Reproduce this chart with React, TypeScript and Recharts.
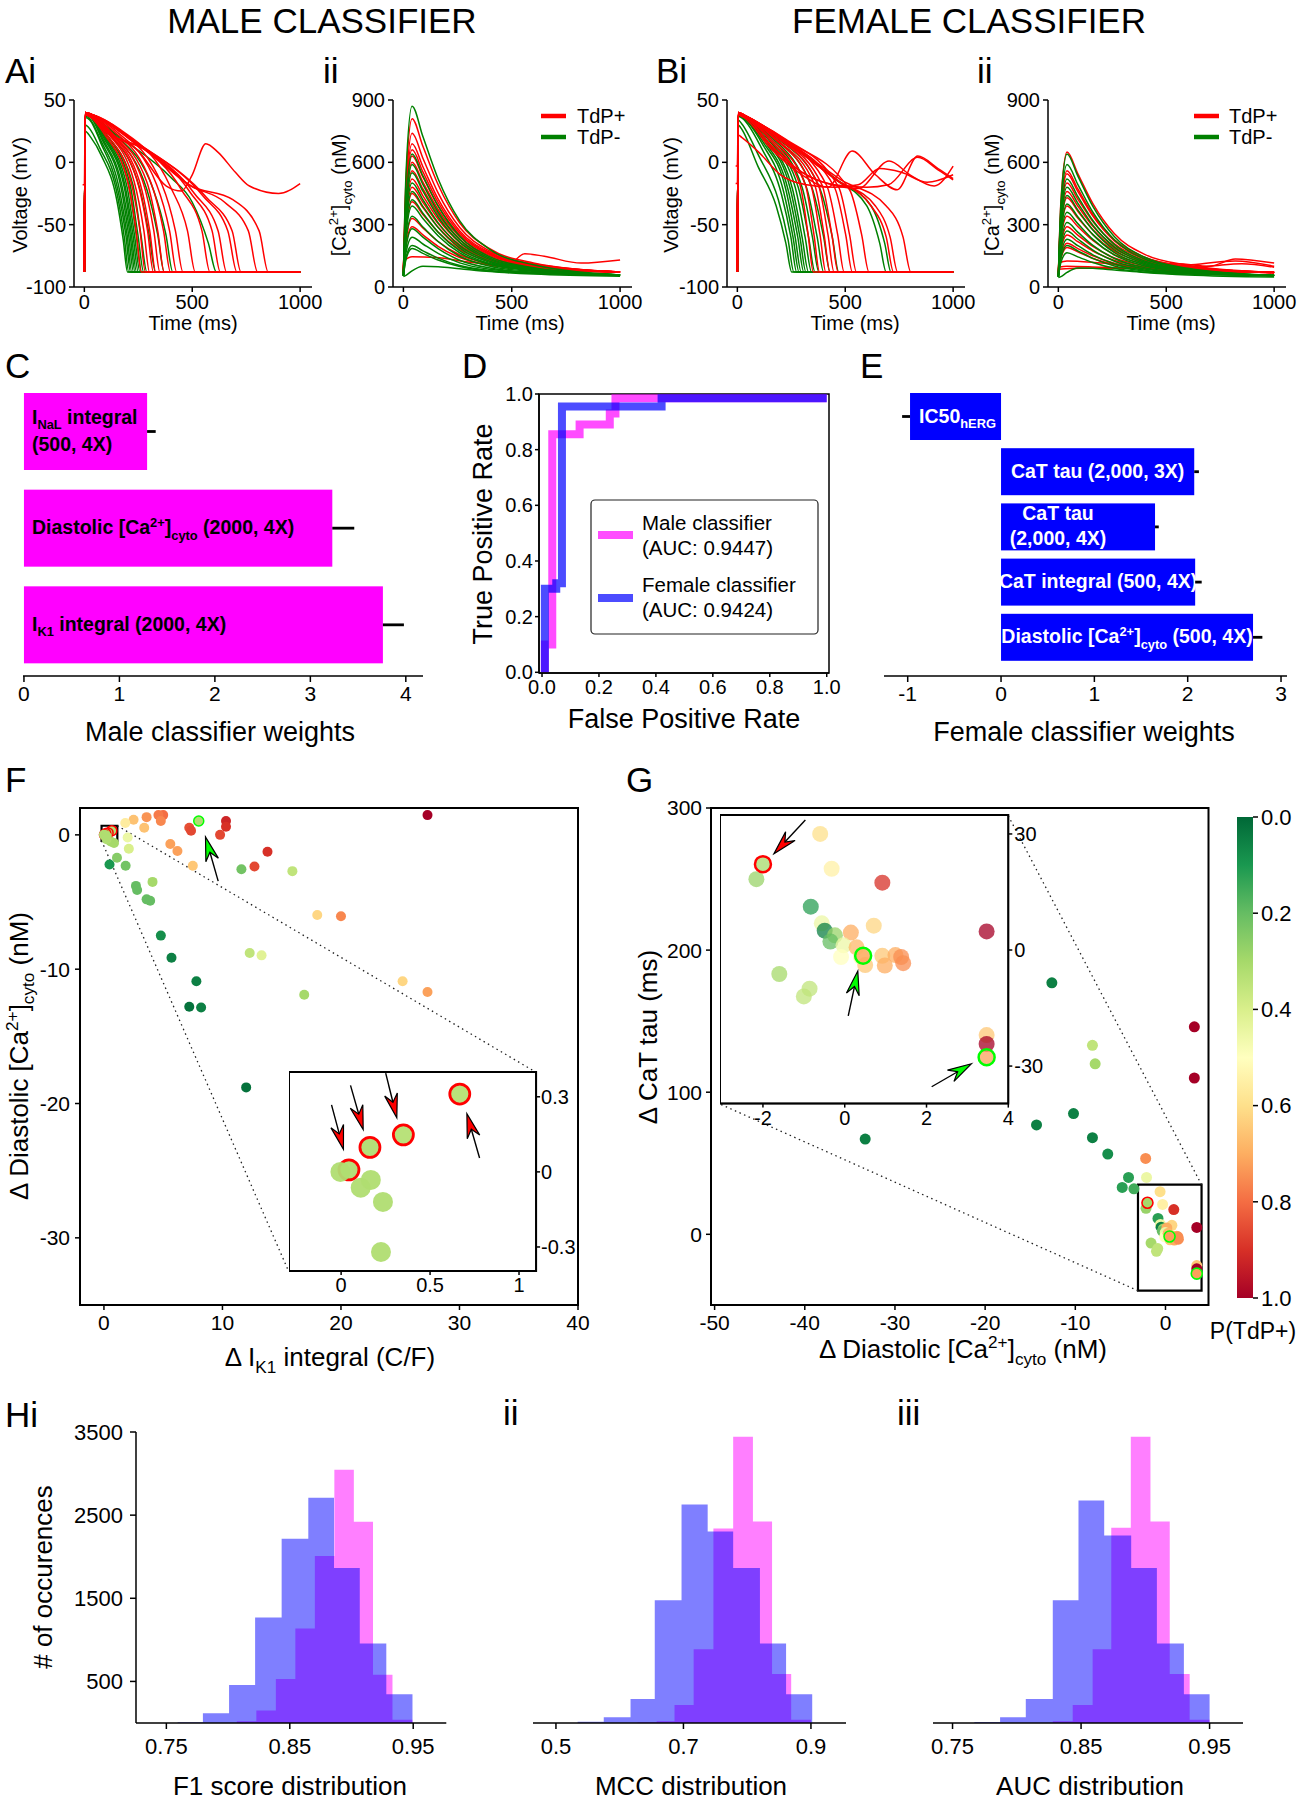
import React from 'react';
import {
  LineChart, Line, BarChart, Bar, ErrorBar, ScatterChart, Scatter, ComposedChart, Area,
  XAxis, YAxis, ReferenceArea, ReferenceLine,
} from 'recharts';

const FONT = "'Liberation Sans', Arial, Helvetica, sans-serif";
const RED = '#ff0000';
const GREEN = '#008000';
const MAGENTA = '#ff00ff';
const BLUE = '#0000ff';
const LIME = '#00ff00';

// ---------- A / B : voltage and Ca traces (t in ms) ----------
const timeTicks = [0, 500, 1000];
const voltTicks = [-100, -50, 0, 50];
const caTicks = [0, 300, 600, 900];
const caTimes = [0, 12, 40, 90, 160, 260, 400, 600, 1000];

const maleApGreen = [
  [[0, -88], [4, 25], [30, 20], [80, 5], [150, -30], [180, -62], [200, -88], [1000, -88]],
  [[0, -88], [4, 30], [20, 28], [70, 12], [155, -28], [185, -60], [206, -88], [1000, -88]],
  [[0, -88], [4, 36], [25, 34], [75, 16], [160, -26], [192, -58], [214, -88], [1000, -88]],
  [[0, -88], [4, 37], [25, 35], [75, 18], [165, -24], [198, -58], [220, -88], [1000, -88]],
  [[0, -88], [4, 38], [30, 36], [80, 19], [172, -22], [205, -58], [228, -88], [1000, -88]],
  [[0, -88], [4, 38], [30, 36], [85, 19], [178, -22], [212, -58], [235, -88], [1000, -88]],
  [[0, -88], [4, 39], [30, 37], [85, 21], [185, -20], [218, -58], [242, -88], [1000, -88]],
  [[0, -88], [4, 38], [30, 37], [90, 21], [190, -20], [225, -58], [250, -88], [1000, -88]],
  [[0, -88], [4, 39], [30, 37], [95, 21], [198, -20], [232, -58], [258, -88], [1000, -88]],
  [[0, -88], [4, 38], [30, 37], [95, 22], [205, -18], [240, -58], [266, -88], [1000, -88]],
  [[0, -88], [4, 39], [35, 37], [100, 23], [212, -18], [248, -58], [275, -88], [1000, -88]],
  [[0, -88], [4, 38], [35, 37], [100, 23], [225, -18], [262, -58], [290, -88], [1000, -88]],
  [[0, -88], [4, 39], [35, 38], [110, 24], [255, -20], [300, -58], [330, -88], [1000, -88]],
  [[0, -88], [4, 38], [35, 37], [120, 24], [290, -22], [340, -58], [370, -88], [1000, -88]],
  [[0, -88], [4, 38], [35, 37], [130, 24], [320, -22], [378, -58], [410, -88], [1000, -88]],
  [[0, -88], [4, 39], [35, 37], [150, 22], [400, -12], [500, -32], [575, -65], [612, -88], [1000, -88]],
];

const maleApRed = [
  [[0, -88], [4, 38], [30, 36], [95, 22], [200, -15], [240, -55], [264, -88], [1000, -88]],
  [[0, -88], [4, 39], [30, 37], [100, 23], [215, -15], [258, -55], [283, -88], [1000, -88]],
  [[0, -88], [4, 38], [30, 37], [105, 24], [230, -15], [276, -55], [302, -88], [1000, -88]],
  [[0, -88], [4, 39], [30, 37], [110, 24], [245, -15], [293, -55], [320, -88], [1000, -88]],
  [[0, -88], [4, 38], [30, 37], [110, 25], [255, -15], [303, -55], [331, -88], [1000, -88]],
  [[0, -88], [4, 40], [35, 38], [115, 25], [270, -15], [322, -55], [350, -88], [1000, -88]],
  [[0, -88], [4, 39], [35, 38], [120, 25], [290, -16], [340, -55], [370, -88], [1000, -88]],
  [[0, -88], [4, 40], [35, 38], [130, 26], [310, -17], [367, -55], [399, -88], [1000, -88]],
  [[0, -88], [4, 39], [35, 38], [140, 26], [335, -18], [395, -55], [428, -88], [1000, -88]],
  [[0, -88], [4, 40], [35, 38], [145, 27], [360, -18], [422, -55], [457, -88], [1000, -88]],
  [[0, -88], [4, 40], [40, 38], [160, 27], [400, -20], [478, -55], [514, -88], [1000, -88]],
  [[0, -88], [4, 40], [40, 38], [200, 20], [450, -22], [545, -55], [582, -88], [1000, -88]],
  [[0, -88], [4, 40], [40, 38], [220, 18], [490, -24], [592, -55], [630, -88], [1000, -88]],
  [[0, -88], [4, 39], [40, 38], [230, 17], [510, -25], [620, -55], [659, -88], [1000, -88]],
  [[0, -88], [4, 40], [40, 38], [240, 16], [550, -27], [665, -55], [707, -88], [1000, -88]],
  [[0, -88], [4, 40], [40, 38], [250, 15], [565, -28], [685, -55], [726, -88], [1000, -88]],
  [[0, -88], [4, 40], [40, 38], [71, 29], [283, 10], [495, -19], [650, -32], [760, -55], [803, -88], [1000, -88]],
  [[0, -88], [4, 40], [40, 38], [71, 29], [283, 10], [495, -19], [688, -30], [810, -55], [852, -88], [1000, -88]],
  [[-8, -18], [0, -18], [4, 40], [30, 38], [100, 25], [245, 10], [380, -19], [450, -23], [500, -10], [563, 15], [620, 8], [700, -8], [765, -19], [900, -25], [1000, -17]],
];

const femaleApGreen = [
  [[0, -88], [4, 30], [15, 28], [95, -3], [180, -35], [225, -65], [252, -88], [1000, -88]],
  [[0, -88], [4, 34], [20, 31], [100, 5], [190, -30], [235, -62], [262, -88], [1000, -88]],
  [[0, -88], [4, 37], [25, 35], [110, 12], [205, -26], [248, -60], [275, -88], [1000, -88]],
  [[0, -88], [4, 38], [25, 36], [115, 15], [215, -24], [258, -60], [286, -88], [1000, -88]],
  [[0, -88], [4, 38], [25, 36], [120, 16], [225, -22], [268, -60], [296, -88], [1000, -88]],
  [[0, -88], [4, 39], [30, 37], [125, 17], [235, -22], [280, -60], [308, -88], [1000, -88]],
  [[0, -88], [4, 38], [30, 37], [130, 18], [245, -21], [290, -60], [318, -88], [1000, -88]],
  [[0, -88], [4, 39], [30, 37], [135, 18], [255, -21], [300, -60], [330, -88], [1000, -88]],
  [[0, -88], [4, 38], [30, 37], [140, 19], [268, -20], [314, -60], [344, -88], [1000, -88]],
  [[0, -88], [4, 39], [30, 37], [145, 19], [282, -20], [330, -60], [360, -88], [1000, -88]],
  [[0, -88], [4, 38], [30, 37], [150, 20], [300, -20], [348, -60], [378, -88], [1000, -88]],
  [[0, -88], [4, 39], [30, 37], [160, 20], [320, -20], [370, -60], [400, -88], [1000, -88]],
  [[0, -88], [4, 38], [30, 37], [170, 20], [345, -20], [400, -60], [430, -88], [1000, -88]],
  [[0, -88], [4, 39], [30, 37], [180, 20], [380, -20], [440, -60], [470, -88], [1000, -88]],
  [[0, -88], [4, 39], [30, 37], [171, 23], [457, -14], [600, -35], [660, -65], [690, -88], [1000, -88]],
  [[0, -88], [4, 39], [30, 37], [171, 22], [470, -15], [620, -35], [683, -65], [712, -88], [1000, -88]],
];

const femaleApRed = [
  [[0, -88], [4, 39], [30, 37], [150, 18], [290, -18], [328, -58], [352, -88], [1000, -88]],
  [[0, -88], [4, 40], [30, 38], [155, 19], [315, -18], [355, -58], [381, -88], [1000, -88]],
  [[0, -88], [4, 39], [30, 37], [165, 20], [340, -18], [383, -58], [410, -88], [1000, -88]],
  [[0, -88], [4, 40], [30, 38], [170, 20], [358, -18], [402, -58], [429, -88], [1000, -88]],
  [[0, -88], [4, 39], [30, 37], [175, 21], [375, -18], [420, -58], [448, -88], [1000, -88]],
  [[0, -88], [4, 40], [30, 38], [180, 21], [392, -18], [438, -58], [467, -88], [1000, -88]],
  [[0, -88], [4, 39], [30, 37], [190, 21], [415, -19], [465, -58], [495, -88], [1000, -88]],
  [[0, -88], [4, 40], [30, 38], [200, 20], [450, -20], [502, -58], [533, -88], [1000, -88]],
  [[0, -88], [4, 39], [30, 37], [210, 20], [470, -20], [520, -58], [552, -88], [1000, -88]],
  [[0, -88], [4, 40], [30, 38], [220, 18], [520, -22], [576, -58], [610, -88], [1000, -88]],
  [[0, -88], [4, 40], [30, 38], [171, 23], [457, -14], [620, -35], [690, -60], [724, -88], [1000, -88]],
  [[0, -88], [4, 39], [30, 37], [171, 23], [470, -15], [640, -35], [708, -60], [743, -88], [1000, -88]],
  [[0, -88], [4, 40], [30, 38], [171, 24], [480, -14], [690, -35], [768, -60], [804, -88], [1000, -88]],
  [[-8, -17], [0, -17], [4, 38], [30, 36], [150, 12], [300, -10], [420, -20], [532, 9], [640, -10], [741, -22], [836, 5], [930, -5], [1000, -13]],
  [[-8, -3], [0, -3], [4, 40], [30, 38], [150, 14], [300, -8], [440, -18], [560, -21], [703, 1], [800, -10], [912, -19], [1000, -3]],
  [[0, -88], [4, 40], [30, 38], [150, 15], [300, -8], [450, -18], [600, -20], [700, -18], [836, 4], [930, -6], [1000, -14]],
  [[0, -88], [4, 22], [20, 20], [100, 8], [200, -10], [320, -18], [450, -20], [560, -18], [660, -5], [760, -8], [880, -16], [1000, -10]],
];

// Ca values at caTimes
const maleCaGreen = [
  [55, 544, 870, 724, 521, 318, 180, 107, 58],
  [55, 406, 640, 535, 390, 244, 145, 93, 58],
  [55, 376, 590, 494, 361, 228, 138, 90, 58],
  [55, 352, 550, 461, 338, 215, 132, 88, 58],
  [55, 322, 500, 420, 310, 199, 124, 85, 58],
  [55, 298, 460, 388, 287, 187, 118, 82, 58],
  [55, 274, 420, 355, 264, 174, 112, 80, 58],
  [55, 256, 390, 330, 247, 164, 108, 78, 58],
  [55, 226, 340, 289, 219, 148, 100, 75, 58],
  [55, 190, 280, 240, 185, 129, 91, 71, 58],
  [55, 166, 240, 207, 162, 116, 85, 69, 58],
  [55, 142, 200, 174, 139, 103, 79, 67, 58],
  [55, 133, 185, 162, 130, 99, 77, 66, 58],
  [50, 56, 78, 100, 98, 88, 74, 62, 52],
];
const maleCaRed = [
  [70, 514, 810, 677, 493, 308, 183, 116, 72],
  [70, 472, 740, 620, 453, 286, 172, 112, 72],
  [70, 442, 690, 579, 424, 270, 165, 109, 72],
  [70, 424, 660, 554, 407, 260, 160, 107, 72],
  [70, 406, 630, 530, 390, 251, 156, 105, 72],
  [70, 388, 600, 505, 373, 241, 151, 104, 72],
  [70, 364, 560, 472, 350, 228, 145, 101, 72],
  [70, 340, 520, 439, 327, 215, 139, 99, 72],
  [70, 316, 480, 407, 305, 203, 133, 96, 72],
  [70, 298, 450, 382, 287, 193, 129, 95, 72],
  [70, 274, 410, 349, 265, 180, 123, 92, 72],
  [70, 226, 330, 284, 219, 155, 111, 87, 72],
  [70, 202, 290, 251, 196, 142, 105, 85, 72],
];
const maleCaRedEad = [
  [[0, 125], [40, 145], [150, 142], [300, 120], [480, 105], [560, 160], [650, 148], [820, 115], [1000, 130]],
];
const femaleCaGreen = [
  [50, 404, 640, 535, 388, 242, 143, 90, 55],
  [50, 374, 590, 494, 360, 226, 135, 87, 55],
  [50, 332, 520, 436, 320, 204, 125, 83, 55],
  [50, 308, 480, 404, 297, 191, 119, 81, 55],
  [50, 284, 440, 371, 274, 178, 113, 78, 55],
  [50, 260, 400, 338, 252, 165, 107, 76, 55],
  [50, 236, 360, 305, 229, 153, 101, 73, 55],
  [50, 206, 310, 264, 200, 137, 93, 70, 55],
  [50, 182, 270, 231, 178, 124, 87, 68, 55],
  [50, 158, 230, 199, 155, 111, 81, 66, 55],
  [50, 140, 200, 174, 138, 101, 77, 64, 55],
  [50, 119, 165, 145, 118, 90, 72, 62, 55],
  [45, 50, 70, 92, 90, 82, 70, 58, 48],
];
const femaleCaRed = [
  [60, 414, 650, 546, 401, 256, 157, 105, 70],
  [60, 360, 560, 472, 349, 227, 144, 99, 70],
  [60, 351, 545, 460, 341, 222, 141, 99, 70],
  [60, 324, 500, 423, 315, 208, 135, 96, 70],
  [60, 300, 460, 390, 292, 195, 129, 93, 70],
  [60, 282, 430, 365, 275, 185, 124, 92, 70],
  [60, 258, 390, 332, 252, 172, 118, 89, 70],
  [60, 228, 340, 291, 224, 156, 111, 86, 70],
  [60, 198, 290, 250, 195, 140, 103, 83, 70],
  [60, 174, 250, 218, 173, 128, 97, 81, 70],
  [60, 150, 210, 185, 150, 115, 91, 78, 70],
  [60, 138, 190, 169, 137, 108, 88, 77, 70],
];
const femaleCaRedEad = [
  [[0, 115], [40, 125], [200, 115], [400, 100], [550, 112], [700, 100], [820, 135], [1000, 115]],
  [[0, 95], [40, 100], [200, 95], [500, 90], [700, 100], [850, 112], [1000, 95]],
  [[0, 85], [100, 90], [300, 90], [600, 105], [820, 125], [1000, 100]],
];

// ---------- C / E : classifier weights ----------
const maleFeatures = ['INaL integral (500, 4X)', 'Diastolic [Ca2+]cyto (2000, 4X)', 'IK1 integral (2000, 4X)'];
const maleWeights = [1.29, 3.23, 3.76];
const maleWeightErr = [0.09, 0.23, 0.22];
const femaleFeatures = ['IC50hERG', 'CaT tau (2,000, 3X)', 'CaT tau (2,000, 4X)', 'CaT integral (500, 4X)', 'Diastolic [Ca2+]cyto (500, 4X)'];
const femaleWeights = [-0.975, 2.07, 1.65, 2.08, 2.7];
const femaleWeightErr = [0.085, 0.05, 0.04, 0.07, 0.1];

type Part = [string, 'n' | 'sub' | 'sup'];
const maleLabelLines: Part[][][] = [
  [[['I', 'n'], ['NaL', 'sub'], [' integral', 'n']], [['(500, 4X)', 'n']]],
  [[['Diastolic [Ca', 'n'], ['2+', 'sup'], [']', 'n'], ['cyto', 'sub'], [' (2000, 4X)', 'n']]],
  [[['I', 'n'], ['K1', 'sub'], [' integral (2000, 4X)', 'n']]],
];
const femaleLabelLines: Part[][][] = [
  [[['IC50', 'n'], ['hERG', 'sub']]],
  [[['CaT tau (2,000, 3X)', 'n']]],
  [[['CaT tau', 'n']], [['(2,000, 4X)', 'n']]],
  [[['CaT integral (500, 4X)', 'n']]],
  [[['Diastolic [Ca', 'n'], ['2+', 'sup'], [']', 'n'], ['cyto', 'sub'], [' (500, 4X)', 'n']]],
];
const femaleLabelShift = [2, 0, -20, 0, 0];

// ---------- D : ROC ----------
const rocMaleFpr = [0.01, 0.01, 0.036, 0.036, 0.132, 0.132, 0.238, 0.238, 0.258, 0.258, 1.0];
const rocMaleTpr = [0.0, 0.1, 0.1, 0.855, 0.855, 0.89, 0.89, 0.93, 0.93, 0.985, 0.985];
const rocFemaleFpr = [0.01, 0.01, 0.05, 0.05, 0.07, 0.07, 0.42, 0.42, 1.0];
const rocFemaleTpr = [0.0, 0.3, 0.3, 0.32, 0.32, 0.955, 0.955, 0.985, 0.985];
const rocTicks = [0, 0.2, 0.4, 0.6, 0.8, 1.0];

// ---------- F / G : scatter [x, y, P(TdP+), ring 0/1 red/2 lime] ----------
const fPoints = [
  [27.3, 1.47, 1.0, 0], [10.3, 1.03, 0.92, 0], [10.3, 0.6, 0.9, 0], [9.8, 0.0, 0.86, 0],
  [8.0, 1.03, 0.32, 2], [7.2, 0.53, 0.85, 0], [7.35, 0.3, 0.86, 0], [5.0, 1.47, 0.8, 0],
  [4.6, 1.47, 0.78, 0], [4.8, 1.03, 0.76, 0], [3.6, 1.32, 0.74, 0], [2.5, 1.12, 0.66, 0],
  [3.4, 0.53, 0.66, 0], [1.8, 0.88, 0.56, 0], [2.0, -0.2, 0.45, 0], [2.1, -1.03, 0.4, 0],
  [1.1, -1.7, 0.25, 0], [0.47, -2.2, 0.1, 0], [1.83, -2.3, 0.22, 0], [5.6, -0.68, 0.72, 0],
  [6.2, -1.2, 0.72, 0], [7.5, -2.3, 0.65, 0], [12.7, -2.35, 0.86, 0], [13.8, -1.26, 0.9, 0],
  [11.6, -2.56, 0.22, 0], [15.9, -2.7, 0.35, 0], [18.0, -5.97, 0.62, 0], [20.0, -6.06, 0.76, 0],
  [2.7, -3.8, 0.2, 0], [2.8, -4.1, 0.2, 0], [4.1, -3.5, 0.3, 0], [3.6, -4.8, 0.2, 0],
  [3.9, -4.9, 0.2, 0], [4.8, -7.5, 0.08, 0], [5.7, -9.15, 0.05, 0], [7.8, -10.9, 0.05, 0],
  [7.2, -12.8, 0.02, 0], [8.2, -12.85, 0.05, 0], [12.0, -18.8, 0.02, 0], [12.3, -8.8, 0.35, 0],
  [13.3, -8.97, 0.42, 0], [16.9, -11.9, 0.3, 0], [25.2, -10.9, 0.62, 0], [27.3, -11.7, 0.72, 0],
  [0.57, -0.5, 0.3, 0], [0.85, -0.6, 0.3, 0],
  [0.667, 0.311, 0.33, 1], [0.35, 0.148, 0.33, 1], [0.162, 0.098, 0.32, 1], [0.044, 0.008, 0.32, 1],
  [-0.004, 0.0, 0.32, 0], [0.11, -0.063, 0.32, 0], [0.167, -0.032, 0.32, 0], [0.235, -0.12, 0.32, 0],
  [0.224, -0.32, 0.32, 0],
];
const gPoints = [
  [-12.6, 177, 0.05, 0], [3.2, 146, 1.0, 0], [3.2, 110, 1.0, 0], [-8.1, 133, 0.35, 0],
  [-7.8, 120, 0.3, 0], [-10.2, 85, 0.05, 0], [-14.3, 77, 0.05, 0], [-8.1, 68, 0.05, 0],
  [-33.3, 67, 0.05, 0], [-6.4, 56.5, 0.08, 0], [-2.2, 53.4, 0.75, 0], [-4.1, 40, 0.12, 0],
  [-4.8, 33, 0.12, 0], [-3.5, 32, 0.15, 0], [-2.1, 40, 0.45, 0],
  [-0.6, 30, 0.6, 0], [-0.32, 21, 0.55, 0], [-2.16, 18.3, 0.28, 0], [-2.0, 22.2, 0.3, 1],
  [0.92, 17.4, 0.9, 0], [-0.83, 11.2, 0.12, 0], [-0.56, 6.9, 0.45, 0], [0.71, 6.3, 0.62, 0],
  [3.47, 4.8, 1.0, 0], [-0.49, 5.0, 0.05, 0], [-0.24, 3.8, 0.28, 0], [-0.35, 2.2, 0.2, 0],
  [0.15, 4.5, 0.7, 0], [-0.03, 1.2, 0.45, 0], [-0.09, -1.8, 0.5, 0], [0.29, 0.7, 0.68, 0],
  [0.4, -1.8, 0.55, 0], [0.5, -3.9, 0.65, 0], [0.92, -1.5, 0.65, 0], [0.98, -4.0, 0.7, 0],
  [1.24, -1.3, 0.7, 0], [1.38, -1.8, 0.75, 0], [1.43, -3.4, 0.75, 0], [0.45, -1.5, 0.72, 2],
  [-1.6, -6.2, 0.3, 0], [-0.86, -10.0, 0.35, 0], [-1.0, -12.0, 0.35, 0],
  [3.47, -22.0, 0.65, 0], [3.47, -24.3, 1.0, 0], [3.47, -27.7, 0.72, 2],
];
// arrow tips [x, y]
const fMainArrowTips = [[8.57, -0.15]];
const fInsetArrowTips = [[0.013, 0.09], [0.124, 0.169], [0.313, 0.216], [0.707, 0.232]];
const gInsetArrowTips = [[-1.73, 24.9], [0.32, -5.4], [3.1, -29.4]];

// ---------- H : bootstrap histograms (bin edges, counts) ----------
const f1BlueEdges = [0.7591, 0.7796, 0.8008, 0.8219, 0.8434, 0.865, 0.8858, 0.9067, 0.9282, 0.9494];
const f1BlueCounts = [10, 116, 456, 1268, 2216, 2709, 1864, 956, 347];
const f1MagEdges = [0.8071, 0.8229, 0.8387, 0.8545, 0.8703, 0.8861, 0.9019, 0.9174, 0.9332, 0.9494];
const f1MagCounts = [20, 150, 530, 1136, 2008, 3045, 2420, 580, 40];
const mccBlueEdges = [0.534, 0.575, 0.617, 0.655, 0.697, 0.738, 0.778, 0.82, 0.861, 0.902];
const mccBlueCounts = [15, 70, 290, 1476, 2628, 2304, 1864, 956, 347];
const mccMagEdges = [0.628, 0.658, 0.686, 0.716, 0.747, 0.778, 0.809, 0.839, 0.869, 0.9];
const mccMagCounts = [10, 20, 216, 888, 2340, 3444, 2424, 588, 40];
const aucBlueEdges = [0.767, 0.787, 0.807, 0.828, 0.848, 0.868, 0.889, 0.909, 0.93, 0.95];
const aucBlueCounts = [12, 68, 288, 1476, 2676, 2256, 1864, 956, 347];
const aucMagEdges = [0.828, 0.8435, 0.859, 0.8735, 0.8887, 0.904, 0.919, 0.9345, 0.95];
const aucMagCounts = [20, 216, 888, 2348, 3444, 2424, 588, 40];

// ---------- layout (page px) ----------
const R = {
  ai: [74, 100, 312, 287], aii: [393, 100, 632, 287], bi: [727, 100, 965, 287], bii: [1048, 100, 1286, 287],
  c: [23, 383, 423, 676], d: [539, 394, 829, 673], e: [884, 389, 1287, 676],
  f: [80, 808, 578, 1305], fIn: [288.5, 1072, 535.6, 1271],
  g: [711, 808, 1208.5, 1305], gIn: [719.7, 815.3, 1008, 1103.9], cbar: [1237, 816.5, 1253, 1297.5],
  hi: [135.7, 1432, 446, 1723], hii: [533, 1432, 846, 1723], hiii: [933.4, 1432, 1243.4, 1723],
};
const T_DOMAIN = [-48, 1055];
const F_X = [-2.02, 40], F_Y = [-35, 2];
const FI_X = [-0.293, 1.096], FI_Y = [-0.396, 0.399];
const F_BOX = [-0.2, 1.13, -0.44, 0.68];
const G_X = [-50.4, 4.77], G_Y = [-49.75, 300];
const GI_X = [-3.05, 4.0], GI_Y = [-39.7, 34.9];

const AX = { stroke: '#000', strokeWidth: 1.5 };
const tk = (s: number) => ({ fontSize: s, fill: '#000', fontFamily: FONT });

function place(r: number[], l: number, t: number, rr: number, b: number) {
  return {
    style: { position: 'absolute' as const, left: r[0] - l, top: r[1] - t },
    width: r[2] - r[0] + l + rr,
    height: r[3] - r[1] + t + b,
  };
}
const lin = (v: number, p0: number, p1: number, d0: number, d1: number) => d0 + ((v - p0) * (d1 - d0)) / (p1 - p0);

const RDYLGN = ['#a50026', '#d73027', '#f46d43', '#fdae61', '#fee08b', '#ffffbf', '#d9ef8b', '#a6d96a', '#66bd63', '#1a9850', '#006837'];
const hex = (c: string) => [1, 3, 5].map((i) => parseInt(c.slice(i, i + 2), 16));
function pColor(p: number) {
  const s = Math.max(0, Math.min(1, 1 - p)) * 10;
  const i = Math.min(9, Math.floor(s));
  const f = s - i;
  const a = hex(RDYLGN[i]);
  const b = hex(RDYLGN[i + 1]);
  return `rgb(${a.map((v, k) => Math.round(v + (b[k] - v) * f)).join(',')})`;
}

const pts = (tr: number[][]) => tr.map(([t, v]) => ({ t, v }));
const caPts = (vals: number[]) => vals.map((v, i) => ({ t: caTimes[i], v }));
const steps = (edges: number[], counts: number[]) => [
  ...counts.map((c, i) => ({ x: edges[i], y: c })),
  { x: edges[edges.length - 1], y: counts[counts.length - 1] },
];
const toScatter = (arr: number[][]) => arr.map(([x, y, p, ring]) => ({ x, y, p, ring }));

function Rich({ x, y, parts, size, anchor = 'start', weight = 400, fill = '#000', rotate = false, subShift = 0.28 }: {
  x: number; y: number; parts: Part[]; size: number; anchor?: string; weight?: number; fill?: string; rotate?: boolean; subShift?: number;
}) {
  let cur = 0;
  return (
    <text x={x} y={y} fontSize={size} fontWeight={weight} fill={fill} textAnchor={anchor as any}
      style={{ whiteSpace: 'pre', fontFamily: FONT }} transform={rotate ? `rotate(-90 ${x} ${y})` : undefined}>
      {parts.map(([s, k], i) => {
        const off = k === 'sub' ? size * subShift : k === 'sup' ? -size * 0.38 : 0;
        const dy = off - cur;
        cur = off;
        return <tspan key={i} dy={dy} fontSize={k === 'n' ? size : size * 0.66}>{s}</tspan>;
      })}
    </text>
  );
}

function TracePanel({ rect, yDomain, yTicks, green, red, redFirst = false }: {
  rect: number[]; yDomain: number[]; yTicks: number[]; green: any[][]; red: any[][]; redFirst?: boolean;
}) {
  const g = place(rect, 72, 14, 24, 34);
  const greens = green.map((d, i) => (
    <Line key={'g' + i} data={d} dataKey="v" type="monotone" stroke={GREEN} strokeWidth={1.5} dot={false} activeDot={false} isAnimationActive={false} />
  ));
  const reds = red.map((d, i) => (
    <Line key={'r' + i} data={d} dataKey="v" type="monotone" stroke={RED} strokeWidth={1.5} dot={false} activeDot={false} isAnimationActive={false} />
  ));
  return (
    <div style={g.style}>
      <LineChart width={g.width} height={g.height} margin={{ top: 14, right: 24, bottom: 0, left: 0 }}>
        <XAxis type="number" dataKey="t" domain={T_DOMAIN} ticks={timeTicks} interval={0} allowDataOverflow height={34}
          tickSize={5} tickMargin={3} tick={tk(20)} axisLine={AX} tickLine={AX} />
        <YAxis type="number" domain={yDomain} ticks={yTicks} interval={0} allowDataOverflow width={72}
          tickSize={5} tickMargin={3} tick={tk(20)} axisLine={AX} tickLine={AX} />
        {redFirst ? reds : greens}
        {redFirst ? greens : reds}
      </LineChart>
    </div>
  );
}

function MaleWeights() {
  const data = maleFeatures.map((name, i) => ({ name, w: maleWeights[i], err: [0, maleWeightErr[i]] }));
  const g = place(R.c, 10, 10, 24, 36);
  const shape = (props: any) => {
    const { x, y, width, height, index } = props;
    const left = Math.min(x, x + width);
    const top = Math.min(y, y + height);
    const w = Math.abs(width);
    const h = Math.abs(height);
    const cy = top + h / 2;
    const lines = maleLabelLines[index];
    const bases = lines.length === 1 ? [cy + 6] : [cy - 8, cy + 19];
    return (
      <g>
        <rect x={left} y={top} width={w} height={h} fill={MAGENTA} />
        {lines.map((parts, k) => <Rich key={k} x={left + 8} y={bases[k]} parts={parts} size={19.5} weight={700} />)}
      </g>
    );
  };
  return (
    <div style={g.style}>
      <BarChart layout="vertical" data={data} width={g.width} height={g.height} margin={{ top: 10, right: 24, bottom: 0, left: 10 }}>
        <XAxis type="number" domain={[-0.01, 4.18]} ticks={[0, 1, 2, 3, 4]} interval={0} allowDataOverflow height={36}
          tickSize={6} tickMargin={4} tick={tk(21)} axisLine={AX} tickLine={AX} />
        <YAxis type="category" dataKey="name" hide padding={{ top: 0, bottom: 3 }} />
        <Bar dataKey="w" barSize={77} shape={shape} isAnimationActive={false}>
          <ErrorBar dataKey="err" direction="x" width={0} stroke="#000" strokeWidth={2.8} />
        </Bar>
      </BarChart>
    </div>
  );
}

function FemaleWeights() {
  const data = femaleFeatures.map((name, i) => ({
    name, w: femaleWeights[i], err: femaleWeights[i] < 0 ? [femaleWeightErr[i], 0] : [0, femaleWeightErr[i]],
  }));
  const g = place(R.e, 10, 10, 12, 36);
  const shape = (props: any) => {
    const { x, y, width, height, index } = props;
    const left = Math.min(x, x + width);
    const top = Math.min(y, y + height);
    const w = Math.abs(width);
    const h = Math.abs(height);
    const cy = top + h / 2;
    const lines = femaleLabelLines[index];
    const bases = lines.length === 1 ? [cy + 6] : [cy - 7, cy + 18];
    const cx = left + w / 2 + femaleLabelShift[index];
    return (
      <g>
        <rect x={left} y={top} width={w} height={h} fill={BLUE} />
        {lines.map((parts, k) => <Rich key={k} x={cx} y={bases[k]} parts={parts} size={19.5} weight={700} fill="#fff" anchor="middle" />)}
      </g>
    );
  };
  return (
    <div style={g.style}>
      <BarChart layout="vertical" data={data} width={g.width} height={g.height} margin={{ top: 10, right: 12, bottom: 0, left: 10 }}>
        <XAxis type="number" domain={[-1.254, 3.064]} ticks={[-1, 0, 1, 2, 3]} interval={0} allowDataOverflow height={36}
          tickSize={6} tickMargin={4} tick={tk(21)} axisLine={AX} tickLine={AX} />
        <YAxis type="category" dataKey="name" hide padding={{ top: 0, bottom: 11 }} />
        <Bar dataKey="w" barSize={47} shape={shape} isAnimationActive={false}>
          <ErrorBar dataKey="err" direction="x" width={0} stroke="#000" strokeWidth={2.8} />
        </Bar>
      </BarChart>
    </div>
  );
}

function RocPanel() {
  const male = rocMaleFpr.map((x, i) => ({ x, y: rocMaleTpr[i] }));
  const female = rocFemaleFpr.map((x, i) => ({ x, y: rocFemaleTpr[i] }));
  const g = place(R.d, 60, 16, 30, 34);
  const XD = [-0.0106, 1.008];
  const YD = [-0.0025, 1.0];
  return (
    <div style={g.style}>
      <LineChart width={g.width} height={g.height} margin={{ top: 16, right: 30, bottom: 0, left: 0 }}>
        <XAxis type="number" dataKey="x" domain={XD} ticks={rocTicks} interval={0} allowDataOverflow height={34}
          tickFormatter={(v: number) => v.toFixed(1)} tickSize={4} tickMargin={3} tick={tk(20)} axisLine={AX} tickLine={AX} />
        <YAxis type="number" domain={YD} ticks={rocTicks} interval={0} allowDataOverflow width={60}
          tickFormatter={(v: number) => v.toFixed(1)} tickSize={4} tickMargin={2} tick={tk(20)} axisLine={AX} tickLine={AX} />
        <Line data={male} dataKey="y" type="linear" stroke={MAGENTA} strokeOpacity={0.7} strokeWidth={8} dot={false} activeDot={false} isAnimationActive={false} />
        <Line data={female} dataKey="y" type="linear" stroke={BLUE} strokeOpacity={0.7} strokeWidth={8} dot={false} activeDot={false} isAnimationActive={false} />
        <ReferenceArea x1={XD[0]} x2={XD[1]} y1={YD[0]} y2={YD[1]} fill="none" stroke="#000" strokeWidth={1.5} ifOverflow="visible" />
      </LineChart>
    </div>
  );
}

const dotShape = (r: number, alpha: number, ringW: number) => (props: any) => {
  const { cx, cy, payload } = props;
  const ring = payload.ring;
  return (
    <circle cx={cx} cy={cy} r={r} fill={pColor(payload.p)} fillOpacity={alpha}
      stroke={ring === 1 ? RED : ring === 2 ? LIME : 'none'} strokeWidth={ring ? ringW : 0} />
  );
};
const arrowShape = (props: any) => {
  const { cx, cy, payload } = props;
  return (
    <g transform={`translate(${cx},${cy}) rotate(${payload.ang})`}>
      <line x1={-16} y1={0} x2={-46} y2={0} stroke="#000" strokeWidth={1.4} />
      <path d="M0,0 L-24,-6.5 L-16,0 L-24,6.5 Z" fill={payload.col} stroke="#000" strokeWidth={1.2} />
    </g>
  );
};
const arrowData = (tips: number[][], angs: number[], cols: string[]) =>
  tips.map(([x, y], i) => ({ x, y, ang: angs[i], col: cols[i] }));

function PanelF() {
  const all = toScatter(fPoints);
  const inset = all.filter((d) => d.x >= FI_X[0] && d.x <= FI_X[1] && d.y >= FI_Y[0] && d.y <= FI_Y[1]);
  const gm = place(R.f, 80, 18, 26, 40);
  const gi = place(R.fIn, 0, 6, 50, 32);
  const inL = lin(R.fIn[0], R.f[0], R.f[2], F_X[0], F_X[1]);
  const inR = lin(R.fIn[2], R.f[0], R.f[2], F_X[0], F_X[1]);
  const inT = lin(R.fIn[1], R.f[1], R.f[3], F_Y[1], F_Y[0]);
  const inB = lin(R.fIn[3], R.f[1], R.f[3], F_Y[1], F_Y[0]);
  return (
    <>
      <div style={gm.style}>
        <ScatterChart width={gm.width} height={gm.height} margin={{ top: 18, right: 26, bottom: 0, left: 0 }}>
          <XAxis type="number" dataKey="x" domain={F_X} ticks={[0, 10, 20, 30, 40]} interval={0} allowDataOverflow height={40}
            tickSize={5} tickMargin={5} tick={tk(21)} axisLine={AX} tickLine={AX} />
          <YAxis type="number" dataKey="y" domain={F_Y} ticks={[-30, -20, -10, 0]} interval={0} allowDataOverflow width={80}
            tickSize={5} tickMargin={5} tick={tk(21)} axisLine={AX} tickLine={AX} />
          <ReferenceArea x1={F_X[0]} x2={F_X[1]} y1={F_Y[0]} y2={F_Y[1]} fill="none" stroke="#000" strokeWidth={2} ifOverflow="visible" />
          <ReferenceLine segment={[{ x: F_BOX[1], y: F_BOX[3] }, { x: inR, y: inT }]} stroke="#222" strokeWidth={1.3} strokeDasharray="1.5 3.5" ifOverflow="visible" />
          <ReferenceLine segment={[{ x: F_BOX[0], y: F_BOX[2] }, { x: inL, y: inB }]} stroke="#222" strokeWidth={1.3} strokeDasharray="1.5 3.5" ifOverflow="visible" />
          <Scatter data={all} shape={dotShape(5, 1, 1.5)} isAnimationActive={false} />
          <ReferenceArea x1={F_BOX[0]} x2={F_BOX[1]} y1={F_BOX[2]} y2={F_BOX[3]} fill="none" stroke="#000" strokeWidth={2.2} ifOverflow="visible" />
          <Scatter data={arrowData(fMainArrowTips, [-106], [LIME])} shape={arrowShape} isAnimationActive={false} />
        </ScatterChart>
      </div>
      <div style={{ position: 'absolute', left: R.fIn[0], top: R.fIn[1], width: R.fIn[2] - R.fIn[0], height: R.fIn[3] - R.fIn[1], background: '#fff' }} />
      <div style={gi.style}>
        <ScatterChart width={gi.width} height={gi.height} margin={{ top: 6, right: 0, bottom: 0, left: 0 }}>
          <XAxis type="number" dataKey="x" domain={FI_X} ticks={[0, 0.5, 1]} interval={0} allowDataOverflow height={32}
            tickSize={4} tickMargin={3} tick={tk(20)} axisLine={AX} tickLine={AX} />
          <YAxis type="number" dataKey="y" orientation="right" domain={FI_Y} ticks={[-0.3, 0, 0.3]} interval={0} allowDataOverflow width={50}
            tickSize={4} tickMargin={1} tick={tk(20)} axisLine={AX} tickLine={AX} />
          <ReferenceArea x1={FI_X[0]} x2={FI_X[1]} y1={FI_Y[0]} y2={FI_Y[1]} fill="none" stroke="#000" strokeWidth={2} ifOverflow="visible" />
          <Scatter data={inset} shape={dotShape(10, 0.95, 2.8)} isAnimationActive={false} />
          <Scatter data={arrowData(fInsetArrowTips, [75, 74, 76, -106], [RED, RED, RED, RED])} shape={arrowShape} isAnimationActive={false} />
        </ScatterChart>
      </div>
    </>
  );
}

function PanelG() {
  const all = toScatter(gPoints);
  const inset = all.filter((d) => d.x >= GI_X[0] && d.x <= GI_X[1] && d.y >= GI_Y[0] && d.y <= GI_Y[1]);
  const gm = place(R.g, 80, 18, 10, 40);
  const gi = place(R.gIn, 0, 6, 50, 32);
  const gc = place(R.cbar, 0, 14, 52, 14);
  const inL = lin(R.gIn[0], R.g[0], R.g[2], G_X[0], G_X[1]);
  const inR = lin(R.gIn[2], R.g[0], R.g[2], G_X[0], G_X[1]);
  const inT = lin(R.gIn[1], R.g[1], R.g[3], G_Y[1], G_Y[0]);
  const inB = lin(R.gIn[3], R.g[1], R.g[3], G_Y[1], G_Y[0]);
  return (
    <>
      <div style={gm.style}>
        <ScatterChart width={gm.width} height={gm.height} margin={{ top: 18, right: 10, bottom: 0, left: 0 }}>
          <XAxis type="number" dataKey="x" domain={G_X} ticks={[-50, -40, -30, -20, -10, 0]} interval={0} allowDataOverflow height={40}
            tickSize={5} tickMargin={5} tick={tk(21)} axisLine={AX} tickLine={AX} />
          <YAxis type="number" dataKey="y" domain={G_Y} ticks={[0, 100, 200, 300]} interval={0} allowDataOverflow width={80}
            tickSize={5} tickMargin={4} tick={tk(21)} axisLine={AX} tickLine={AX} />
          <ReferenceArea x1={G_X[0]} x2={G_X[1]} y1={G_Y[0]} y2={G_Y[1]} fill="none" stroke="#000" strokeWidth={2} ifOverflow="visible" />
          <ReferenceLine segment={[{ x: GI_X[1], y: GI_Y[1] }, { x: inR, y: inT }]} stroke="#222" strokeWidth={1.3} strokeDasharray="1.5 3.5" ifOverflow="visible" />
          <ReferenceLine segment={[{ x: GI_X[0], y: GI_Y[0] }, { x: inL, y: inB }]} stroke="#222" strokeWidth={1.3} strokeDasharray="1.5 3.5" ifOverflow="visible" />
          <Scatter data={all} shape={dotShape(5.5, 1, 1.6)} isAnimationActive={false} />
          <ReferenceArea x1={GI_X[0]} x2={GI_X[1]} y1={GI_Y[0]} y2={GI_Y[1]} fill="none" stroke="#000" strokeWidth={2.2} ifOverflow="visible" />
        </ScatterChart>
      </div>
      <div style={{ position: 'absolute', left: R.gIn[0], top: R.gIn[1], width: R.gIn[2] - R.gIn[0], height: R.gIn[3] - R.gIn[1], background: '#fff' }} />
      <div style={gi.style}>
        <ScatterChart width={gi.width} height={gi.height} margin={{ top: 6, right: 0, bottom: 0, left: 0 }}>
          <XAxis type="number" dataKey="x" domain={GI_X} ticks={[-2, 0, 2, 4]} interval={0} allowDataOverflow height={32}
            tickSize={4} tickMargin={3} tick={tk(20)} axisLine={AX} tickLine={AX} />
          <YAxis type="number" dataKey="y" orientation="right" domain={GI_Y} ticks={[-30, 0, 30]} interval={0} allowDataOverflow width={50}
            tickSize={4} tickMargin={2} tick={tk(20)} axisLine={AX} tickLine={AX} />
          <ReferenceArea x1={GI_X[0]} x2={GI_X[1]} y1={GI_Y[0]} y2={GI_Y[1]} fill="none" stroke="#000" strokeWidth={2} ifOverflow="visible" />
          <Scatter data={inset} shape={dotShape(8, 0.75, 2.5)} isAnimationActive={false} />
          <Scatter data={arrowData(gInsetArrowTips, [133, -78, -30], [RED, LIME, LIME])} shape={arrowShape} isAnimationActive={false} />
        </ScatterChart>
      </div>
      <div style={gc.style}>
        <BarChart data={[{ k: 'P', v: 1 }]} width={gc.width} height={gc.height} margin={{ top: 14, right: 0, bottom: 14, left: 0 }} barCategoryGap={0}>
          <defs>
            <linearGradient id="cbarGrad" x1="0" y1="0" x2="0" y2="1">
              {RDYLGN.map((c, k) => <stop key={k} offset={`${k * 10}%`} stopColor={RDYLGN[10 - k]} />)}
            </linearGradient>
          </defs>
          <XAxis type="category" dataKey="k" hide />
          <YAxis type="number" orientation="right" domain={[0, 1]} reversed ticks={[0, 0.2, 0.4, 0.6, 0.8, 1]} interval={0} width={52}
            tickFormatter={(v: number) => v.toFixed(1)} tickSize={5} tickMargin={3} tick={tk(22)} axisLine={false} tickLine={AX} />
          <Bar dataKey="v" fill="url(#cbarGrad)" isAnimationActive={false} />
        </BarChart>
      </div>
    </>
  );
}

function Hist({ rect, domain, ticks, digits, showY, blue, mag }: {
  rect: number[]; domain: number[]; ticks: number[]; digits: number; showY: boolean; blue: any[]; mag: any[];
}) {
  const g = place(rect, showY ? 90 : 10, 14, 24, 44);
  return (
    <div style={g.style}>
      <ComposedChart width={g.width} height={g.height} margin={{ top: 14, right: 24, bottom: 0, left: showY ? 0 : 10 }}>
        <XAxis type="number" dataKey="x" domain={domain} ticks={ticks} interval={0} allowDataOverflow height={44}
          tickFormatter={(v: number) => v.toFixed(digits)} tickSize={6} tickMargin={9} tick={tk(22)} axisLine={AX} tickLine={AX} />
        <YAxis type="number" domain={[0, 3500]} ticks={[500, 1500, 2500, 3500]} interval={0} allowDataOverflow hide={!showY} width={90}
          tickSize={6} tickMargin={7} tick={tk(22)} axisLine={AX} tickLine={AX} />
        <Area data={mag} dataKey="y" type="stepAfter" fill={MAGENTA} fillOpacity={0.5} stroke="none" dot={false} activeDot={false} isAnimationActive={false} />
        <Area data={blue} dataKey="y" type="stepAfter" fill={BLUE} fillOpacity={0.5} stroke="none" dot={false} activeDot={false} isAnimationActive={false} />
      </ComposedChart>
    </div>
  );
}

const caLabel: Part[] = [['[Ca', 'n'], ['2+', 'sup'], [']', 'n'], ['cyto', 'sub'], [' (nM)', 'n']];
const diaLabel: Part[] = [['\u0394 Diastolic [Ca', 'n'], ['2+', 'sup'], [']', 'n'], ['cyto', 'sub'], [' (nM)', 'n']];

function Overlay() {
  const L = (x: number, y: number, s: string) => <text x={x} y={y} fontSize={35}>{s}</text>;
  return (
    <svg width={1300} height={1800} style={{ position: 'absolute', left: 0, top: 0, pointerEvents: 'none', fontFamily: FONT }}>
      <text x={322} y={33} fontSize={35} textAnchor="middle">MALE CLASSIFIER</text>
      <text x={969} y={33} fontSize={35} textAnchor="middle">FEMALE CLASSIFIER</text>
      {L(5, 83, 'Ai')}{L(323, 83, 'ii')}{L(656, 83, 'Bi')}{L(977, 83, 'ii')}
      {L(5, 378, 'C')}{L(462, 378, 'D')}{L(860, 378, 'E')}
      {L(5, 792, 'F')}{L(626, 792, 'G')}
      {L(5, 1427, 'Hi')}{L(503, 1425, 'ii')}{L(897, 1425, 'iii')}

      {[193, 520, 855, 1171].map((x) => <text key={x} x={x} y={330} fontSize={20} textAnchor="middle">Time (ms)</text>)}
      <Rich x={27} y={195} parts={[['Voltage (mV)', 'n']]} size={20} anchor="middle" rotate />
      <Rich x={678} y={195} parts={[['Voltage (mV)', 'n']]} size={20} anchor="middle" rotate />
      <Rich x={346} y={195} parts={caLabel} size={20} anchor="middle" rotate />
      <Rich x={999} y={195} parts={caLabel} size={20} anchor="middle" rotate />

      {[[541, 577], [1194, 1229]].map(([lx, tx]) => (
        <g key={lx}>
          <line x1={lx} x2={lx + 25} y1={116} y2={116} stroke={RED} strokeWidth={4.5} />
          <line x1={lx} x2={lx + 25} y1={137} y2={137} stroke={GREEN} strokeWidth={4.5} />
          <text x={tx} y={123} fontSize={20}>TdP+</text>
          <text x={tx} y={144} fontSize={20}>TdP-</text>
        </g>
      ))}

      <text x={220} y={741} fontSize={27} textAnchor="middle">Male classifier weights</text>
      <text x={684} y={728} fontSize={27} textAnchor="middle">False Positive Rate</text>
      <Rich x={492} y={534} parts={[['True Positive Rate', 'n']]} size={27} anchor="middle" rotate />
      <text x={1084} y={741} fontSize={27} textAnchor="middle">Female classifier weights</text>

      <rect x={591} y={500} width={227} height={134} rx={4} fill="#fff" stroke="#222" strokeWidth={1.2} />
      <line x1={598} x2={633} y1={535} y2={535} stroke={MAGENTA} strokeOpacity={0.7} strokeWidth={8} />
      <line x1={598} x2={633} y1={598} y2={598} stroke={BLUE} strokeOpacity={0.7} strokeWidth={8} />
      <text x={642} y={530} fontSize={20.5}>Male classifier</text>
      <text x={642} y={555} fontSize={20.5}>(AUC: 0.9447)</text>
      <text x={642} y={592} fontSize={20.5}>Female classifier</text>
      <text x={642} y={617} fontSize={20.5}>(AUC: 0.9424)</text>

      <Rich x={330} y={1366} parts={[['\u0394 I', 'n'], ['K1', 'sub'], [' integral (C/F)', 'n']]} size={26} anchor="middle" />
      <Rich x={28} y={1056} parts={diaLabel} size={26} anchor="middle" rotate subShift={0.24} />
      <Rich x={657} y={1037} parts={[['\u0394 CaT tau (ms)', 'n']]} size={26} anchor="middle" rotate />
      <Rich x={963} y={1358} parts={diaLabel} size={26} anchor="middle" />
      <text x={1253} y={1339} fontSize={23} textAnchor="middle">P(TdP+)</text>

      <Rich x={52} y={1577} parts={[['# of occurences', 'n']]} size={26} anchor="middle" rotate />
      <text x={290} y={1795} fontSize={26} textAnchor="middle">F1 score distribution</text>
      <text x={691} y={1795} fontSize={26} textAnchor="middle">MCC distribution</text>
      <text x={1090} y={1795} fontSize={26} textAnchor="middle">AUC distribution</text>
    </svg>
  );
}

export default function App() {
  return (
    <div style={{ position: 'absolute', left: 0, top: 0, width: 1300, height: 1800, background: '#fff', fontFamily: FONT, overflow: 'hidden' }}>
      <TracePanel rect={R.ai} yDomain={[-100, 50]} yTicks={voltTicks} green={maleApGreen.map(pts)} red={maleApRed.map(pts)} />
      <TracePanel rect={R.aii} yDomain={[0, 900]} yTicks={caTicks} green={maleCaGreen.map(caPts)}
        red={[...maleCaRed.map(caPts), ...maleCaRedEad.map(pts)]} redFirst />
      <TracePanel rect={R.bi} yDomain={[-100, 50]} yTicks={voltTicks} green={femaleApGreen.map(pts)} red={femaleApRed.map(pts)} />
      <TracePanel rect={R.bii} yDomain={[0, 900]} yTicks={caTicks} green={femaleCaGreen.map(caPts)}
        red={[...femaleCaRed.map(caPts), ...femaleCaRedEad.map(pts)]} redFirst />
      <MaleWeights />
      <RocPanel />
      <FemaleWeights />
      <PanelF />
      <PanelG />
      <Hist rect={R.hi} domain={[0.7254, 0.9768]} ticks={[0.75, 0.85, 0.95]} digits={2} showY
        blue={steps(f1BlueEdges, f1BlueCounts)} mag={steps(f1MagEdges, f1MagCounts)} />
      <Hist rect={R.hii} domain={[0.464, 0.955]} ticks={[0.5, 0.7, 0.9]} digits={1} showY={false}
        blue={steps(mccBlueEdges, mccBlueCounts)} mag={steps(mccMagEdges, mccMagCounts)} />
      <Hist rect={R.hiii} domain={[0.7348, 0.976]} ticks={[0.75, 0.85, 0.95]} digits={2} showY={false}
        blue={steps(aucBlueEdges, aucBlueCounts)} mag={steps(aucMagEdges, aucMagCounts)} />
      <Overlay />
    </div>
  );
}
